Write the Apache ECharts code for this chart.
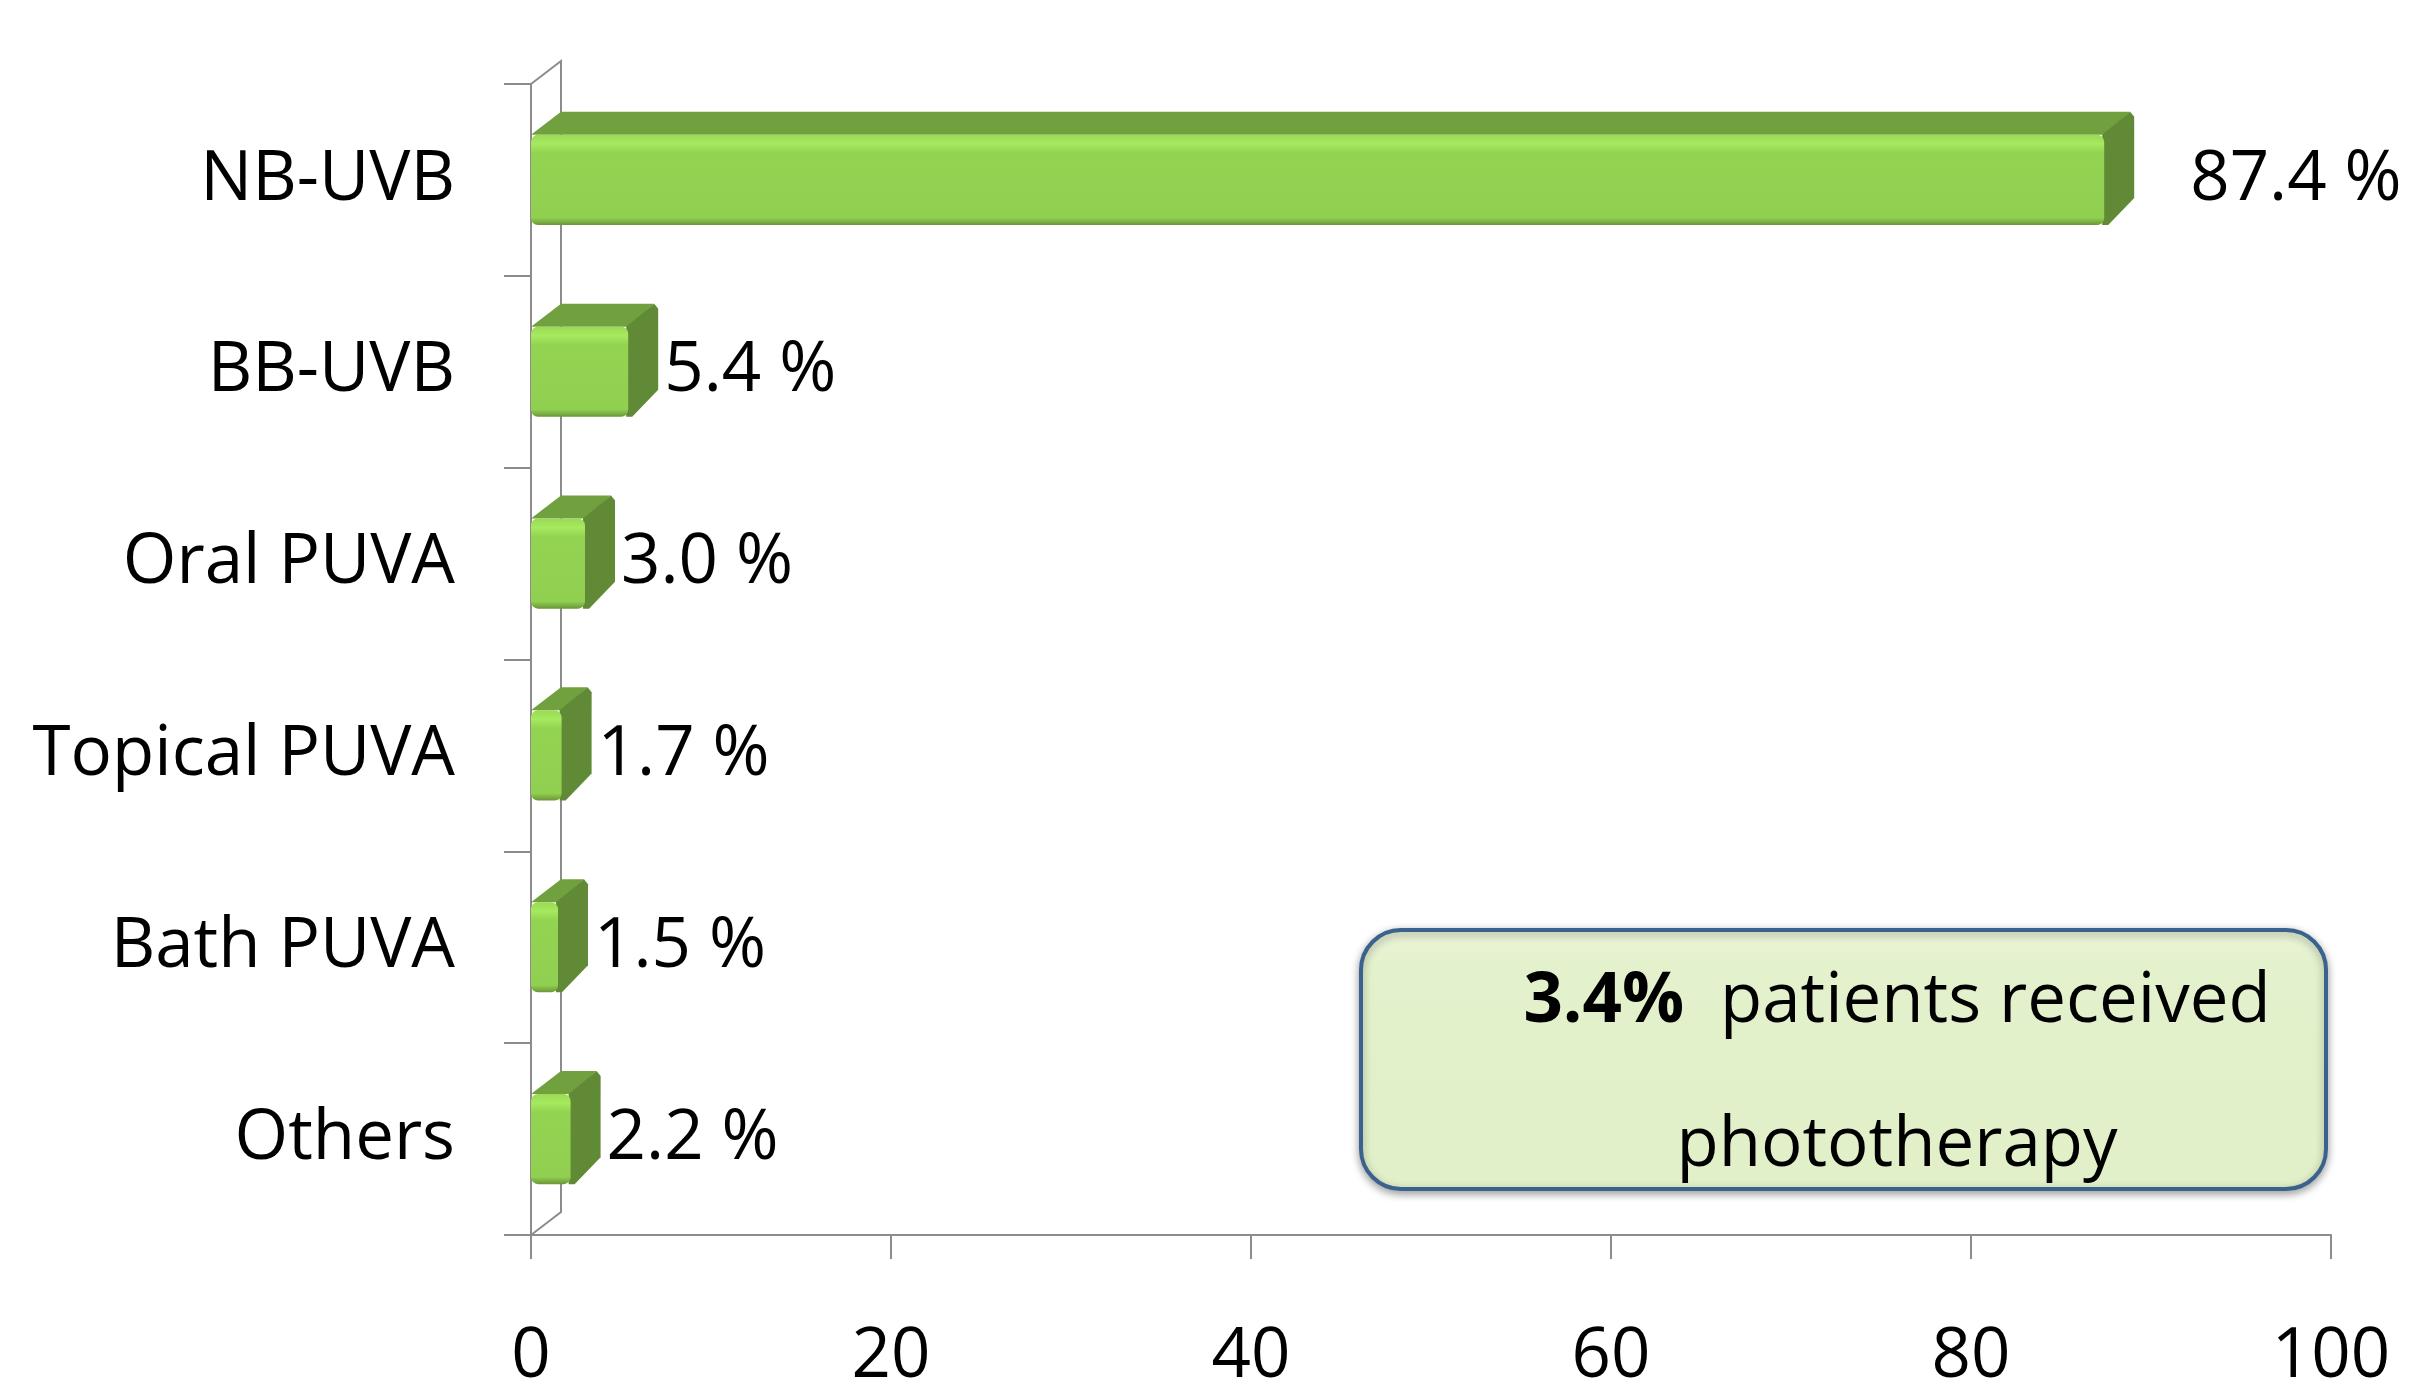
<!DOCTYPE html>
<html>
<head>
<meta charset="utf-8">
<title>Phototherapy</title>
<script src="https://cdn.jsdelivr.net/npm/echarts@6/dist/echarts.min.js"></script>
<style>
    html, body { margin: 0; padding: 0; background: #fff; }
    #chart { width: 2411px; height: 1397px; }
</style>
</head>
<body>
<div id="chart"></div>
<script>
    // data
    var categories = ['NB-UVB', 'BB-UVB', 'Oral PUVA', 'Topical PUVA', 'Bath PUVA', 'Others'];
    var percents = [87.4, 5.4, 3.0, 1.7, 1.5, 2.2];
    var xTicks = [0, 20, 40, 60, 80, 100];
    var noteBold = '3.4%';
    var noteRest = 'patients received';
    var noteLine2 = 'phototherapy';

    var FONT = '"Open Sans", "Noto Sans", sans-serif';
    var gridLeft = 531, gridTop = 84, gridRight = 80, gridBottom = 162;
    var plotBottom = 1397 - gridBottom;
    var depthX = 30, depthY = 23;   // 3d depth of bars and wall

    var myChart = echarts.init(document.getElementById('chart'));

    var seriesData = percents.map(function (v, i) { return [v, i]; });

    function renderBar(params, api) {
        var v = api.value(0);
        var cat = api.value(1);
        var start = api.coord([0, cat]);
        var end = api.coord([v, cat]);
        var band = api.size([0, 1])[1];
        var h = band * 0.47;
        var x0 = start[0], x1 = end[0];
        var yt = end[1] - h / 2, yb = end[1] + h / 2;
        // the long bar gets its label pushed further out, like the original
        var gap = v > 50 ? 56 : 6;
        return {
            type: 'group',
            children: [
                {   // top face
                    type: 'polygon',
                    shape: { points: [[x0, yt], [x0 + depthX, yt - depthY], [x1 + depthX - 4, yt - depthY], [x1, yt]] },
                    style: { fill: '#71A03F' }
                },
                {   // side face
                    type: 'polygon',
                    shape: { points: [[x1 - 2, yt], [x1 + depthX - 4, yt - depthY], [x1 + depthX, yt - depthY + 5], [x1 + depthX, yb - depthY - 4], [x1 + 4, yb], [x1 - 2, yb]] },
                    style: { fill: '#608A35' }
                },
                {   // front face
                    type: 'rect',
                    shape: { x: x0, y: yt, width: x1 - x0, height: h, r: 7 },
                    style: {
                        fill: new echarts.graphic.LinearGradient(0, 0, 0, 1, [
                            { offset: 0, color: '#9AD955' },
                            { offset: 0.1, color: '#A6EA5E' },
                            { offset: 0.2, color: '#93D352' },
                            { offset: 0.92, color: '#91CF50' },
                            { offset: 1, color: '#6A9639' }
                        ])
                    }
                },
                {
                    type: 'text',
                    x: x1 + depthX + gap,
                    y: end[1],
                    style: {
                        text: v.toFixed(1) + ' %',
                        font: '69px ' + FONT,
                        fill: '#000',
                        verticalAlign: 'middle',
                        align: 'left'
                    }
                }
            ]
        };
    }

    var axisGrey = '#8C8C8C';

    var option = {
        animation: false,
        backgroundColor: '#fff',
        grid: { left: gridLeft, right: gridRight, top: gridTop, bottom: gridBottom },
        xAxis: {
            type: 'value',
            min: xTicks[0],
            max: xTicks[xTicks.length - 1],
            interval: xTicks[1] - xTicks[0],
            axisLine: { show: true, lineStyle: { color: axisGrey, width: 2 } },
            axisTick: { show: true, length: 24, lineStyle: { color: axisGrey, width: 2 } },
            splitLine: { show: false },
            axisLabel: { fontSize: 69, fontFamily: FONT, color: '#000', margin: 88 }
        },
        yAxis: {
            type: 'category',
            inverse: true,
            data: categories,
            axisLine: { show: true, lineStyle: { color: axisGrey, width: 2 } },
            axisTick: { show: true, length: 27, lineStyle: { color: axisGrey, width: 2 } },
            axisLabel: { fontSize: 69, fontFamily: FONT, color: '#000', margin: 76 }
        },
        series: [{
            type: 'custom',
            renderItem: renderBar,
            encode: { x: 0, y: 1 },
            clip: false,
            data: seriesData
        }],
        graphic: [
            // back wall of the 3d frame
            {
                type: 'polyline',
                shape: { points: [[gridLeft, gridTop], [gridLeft + depthX, gridTop - depthY], [gridLeft + depthX, plotBottom - depthY], [gridLeft, plotBottom]] },
                style: { stroke: axisGrey, lineWidth: 2, fill: null },
                z: 1
            },
            // note box
            {
                type: 'group',
                children: [
                    {
                        type: 'rect',
                        shape: { x: 1361, y: 930, width: 965, height: 259, r: 40 },
                        style: {
                            fill: new echarts.graphic.LinearGradient(0, 0, 0, 1, [
                                { offset: 0, color: '#EBF6D9' },
                                { offset: 0.15, color: '#E3F1CC' },
                                { offset: 1, color: '#E1F0C8' }
                            ]),
                            stroke: '#3A628D',
                            lineWidth: 4,
                            shadowBlur: 8,
                            shadowOffsetY: 3,
                            shadowColor: 'rgba(0,0,0,0.35)'
                        }
                    },
                    {
                        type: 'text',
                        x: 1897,
                        y: 1074,
                        style: {
                            text: '{b|' + noteBold + '}  ' + noteRest + '\n' + noteLine2,
                            align: 'center',
                            verticalAlign: 'middle',
                            font: '69px ' + FONT,
                            fill: '#000',
                            lineHeight: 144,
                            rich: {
                                b: { font: 'bold 69px ' + FONT, fill: '#000', lineHeight: 144 }
                            }
                        }
                    }
                ]
            }
        ]
    };

    myChart.setOption(option);
</script>
</body>
</html>
